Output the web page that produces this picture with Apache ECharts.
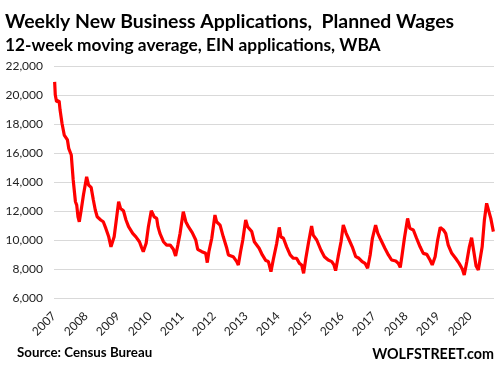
<!DOCTYPE html>
<html>
<head>
<meta charset="utf-8">
<script src="https://cdn.jsdelivr.net/npm/echarts@6/dist/echarts.min.js"></script>
<style>html,body{margin:0;padding:0;background:#fff}#c{width:500px;height:371px}</style>
</head>
<body>
<div id="c"></div>
<script>
const titleText = 'Weekly New Business Applications,  Planned Wages';
const subtitleText = '12-week moving average, EIN applications, WBA';
const sourceText = 'Source: Census Bureau';
const brandText = 'WOLFSTREET.com';
const yTicks = [6000, 8000, 10000, 12000, 14000, 16000, 18000, 20000, 22000];
const xYearLabels = [2007,2008,2009,2010,2011,2012,2013,2014,2015,2016,2017,2018,2019,2020];
// fractional years (date) of traced vertices
const dates = [
2007.02,2007.04,2007.08,2007.16,2007.19,2007.25,2007.32,2007.42,2007.46,2007.54,2007.60,2007.67,2007.71,2007.75,2007.79,2007.85,2007.92,
2008.02,2008.08,2008.16,2008.23,2008.29,2008.35,2008.46,2008.54,2008.62,2008.71,2008.78,2008.88,2008.94,
2009.02,2009.08,2009.17,2009.25,2009.33,2009.46,2009.56,2009.67,2009.73,2009.79,2009.88,2009.95,
2010.04,2010.13,2010.21,2010.25,2010.31,2010.42,2010.52,2010.63,2010.73,2010.80,2010.87,2010.94,
2011.04,2011.12,2011.20,2011.32,2011.43,2011.49,2011.62,2011.74,2011.79,2011.84,2011.93,
2012.03,2012.08,2012.19,2012.29,2012.40,2012.45,2012.60,2012.71,2012.76,2012.83,2012.90,2012.99,
2013.05,2013.18,2013.26,2013.41,2013.51,2013.62,2013.70,2013.78,2013.85,2013.96,
2014.04,2014.09,2014.17,2014.27,2014.38,2014.48,2014.58,2014.67,2014.74,2014.80,2014.87,2014.95,
2015.05,2015.10,2015.21,2015.34,2015.45,2015.57,2015.68,2015.75,2015.80,2015.88,2015.97,
2016.04,2016.13,2016.20,2016.32,2016.43,2016.53,2016.63,2016.72,2016.80,2016.88,2016.95,
2017.05,2017.12,2017.19,2017.24,2017.34,2017.45,2017.55,2017.68,2017.76,2017.82,2017.87,2017.95,
2018.05,2018.12,2018.23,2018.33,2018.44,2018.54,2018.65,2018.75,2018.82,2018.91,2018.99,
2019.07,2019.17,2019.24,2019.32,2019.43,2019.55,2019.66,2019.76,2019.82,2019.90,2019.98,
2020.05,2020.12,2020.19,2020.26,2020.32,2020.38,2020.45,2020.52,2020.57,2020.65,2020.73
];
const applications = [
20900,20000,19540,19600,18960,18050,17240,16900,16320,15860,14140,12640,12410,11600,11260,12070,13100,
14360,13790,13630,12760,12070,11600,11380,11260,10800,10220,9530,10220,11260,
12640,12180,12020,11380,10920,10460,10220,9880,9530,9190,9770,10920,
12020,11600,11490,10920,10460,9880,9650,9650,9360,8900,9650,10460,
11950,11260,10920,10510,10000,9360,9190,9080,8440,9190,10120,
11720,11260,11030,10220,9430,8970,8850,8510,8280,9190,10000,11380,
10920,10580,9880,9430,8970,8580,8510,7820,8620,9770,
10870,10220,10120,9530,8970,8740,8740,8390,8280,7700,8740,9770,
10970,10340,10000,9310,8850,8620,8510,8280,7890,8850,9880,
11030,10460,10120,9530,8850,8740,8510,8390,8050,8970,10120,
11030,10460,10120,10000,9430,8970,8620,8550,8390,8110,8850,10120,
11490,10800,10690,10120,9530,9080,9010,8620,8280,8850,10000,
10870,10690,10460,9650,9080,8740,8390,8000,7590,8510,9530,
10160,9190,8210,7930,8050,9530,11380,12530,12410,11490,10580
];

const chart = echarts.init(document.getElementById('c'), null, {renderer:'canvas'});
const FONT = 'Lato';
chart.setOption({
  animation: false,
  backgroundColor: '#fff',
  title: [
    {text: titleText, left: 5, top: 12, padding: 0, textStyle:{fontFamily:FONT, fontWeight:'bold', fontSize:19.4, color:'#000'}},
    {text: subtitleText, left: 5, top: 37, padding: 0, textStyle:{fontFamily:FONT, fontWeight:'bold', fontSize:17.3, color:'#000'}},
    {text: sourceText, left: 17, top: 346, padding: 0, textStyle:{fontFamily:FONT, fontWeight:'bold', fontSize:13.3, color:'#000'}},
    {text: brandText, right: 6, top: 347, padding: 0, textStyle:{fontFamily:FONT, fontWeight:'bold', fontSize:14.3, color:'#000'}}
  ],
  grid: {left: 54, right: 6, top: 66, bottom: 73, containLabel: false},
  xAxis: {
    type: 'value', min: xYearLabels[0], max: 2020.75, interval: 1,
    axisLine: {show: false}, axisTick: {show: false}, splitLine: {show: false},
    axisLabel: {
      rotate: 45, margin: 16, fontFamily: FONT, fontSize: 12, color: '#222',
      showMaxLabel: false,
      formatter: v => xYearLabels.includes(v) ? String(v) : ''
    }
  },
  yAxis: {
    type: 'value', min: yTicks[0], max: yTicks[yTicks.length-1], interval: 2000,
    axisLine: {show:false}, axisTick:{show:false},
    splitLine: {lineStyle: {color:'#d9d9d9', width:1}},
    axisLabel: {margin: 11, fontFamily: FONT, fontSize: 12, color:'#222',
      formatter: v => v.toLocaleString('en-US')}
  },
  series: [{
    type: 'line', showSymbol: false, smooth: false,
    lineStyle: {color:'#ff0000', width: 3.2},
    itemStyle: {color:'#ff0000'},
    data: dates.map((d,i)=>[d, applications[i]])
  }]
});
</script>
</body>
</html>
